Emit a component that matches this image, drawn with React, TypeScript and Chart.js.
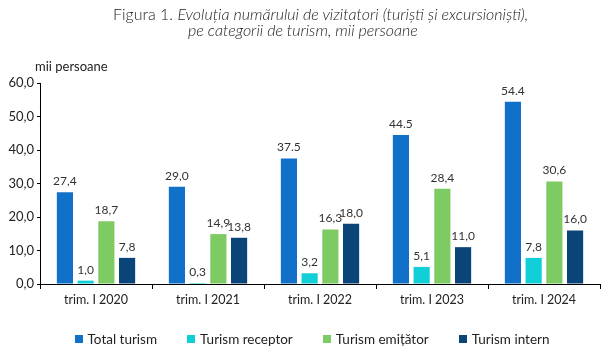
import React, { useEffect, useRef } from "react";
import { Chart, registerables } from "chart.js";

Chart.register(...registerables);

const categories = ["trim. I 2020", "trim. I 2021", "trim. I 2022", "trim. I 2023", "trim. I 2024"];
const seriesNames = ["Total turism", "Turism receptor", "Turism emițător", "Turism intern"];
const totalTurism = [27.4, 29.0, 37.5, 44.5, 54.4];
const turismReceptor = [1.0, 0.3, 3.2, 5.1, 7.8];
const turismEmitator = [18.7, 14.9, 16.3, 28.4, 30.6];
const turismIntern = [7.8, 13.8, 18.0, 11.0, 16.0];
const totalLabels = ["27,4", "29,0", "37.5", "44.5", "54.4"];
const receptorLabels = ["1,0", "0,3", "3,2", "5,1", "7,8"];
const emitatorLabels = ["18,7", "14,9", "16,3", "28,4", "30,6"];
const internLabels = ["7,8", "13,8", "18,0", "11,0", "16,0"];
const yTicks = [0, 10, 20, 30, 40, 50, 60];

const colors = ["#1170C8", "#10CFD9", "#7ECB63", "#0B4479"];
const FONT = "Lato, 'Open Sans', sans-serif";

const valueLabelPlugin = {
  id: "valueLabels",
  afterDatasetsDraw(chart: any) {
    const ctx = chart.ctx;
    ctx.save();
    ctx.font = `12px ${FONT}`;
    ctx.fillStyle = "#333";
    ctx.textAlign = "center";
    ctx.textBaseline = "bottom";
    chart.data.datasets.forEach((ds: any, i: number) => {
      const meta = chart.getDatasetMeta(i);
      meta.data.forEach((bar: any, j: number) => {
        ctx.fillText(ds.valueLabels[j], bar.x, bar.y - 5);
      });
    });
    ctx.restore();
  },
};

export default function App() {
  const ref = useRef<HTMLCanvasElement>(null);
  useEffect(() => {
    const values = [totalTurism, turismReceptor, turismEmitator, turismIntern];
    const labels = [totalLabels, receptorLabels, emitatorLabels, internLabels];
    const chart = new Chart(ref.current!, {
      type: "bar",
      data: {
        labels: categories,
        datasets: values.map((v, i) => ({
          label: seriesNames[i],
          data: v,
          backgroundColor: colors[i],
          borderWidth: 0,
          categoryPercentage: 0.74,
          barPercentage: 0.78,
          valueLabels: labels[i],
        })) as any,
      },
      options: {
        animation: false,
        responsive: false,
        maintainAspectRatio: false,
        layout: { padding: { top: 83, right: 11, left: 0, bottom: 0 } },
        plugins: {
          title: { display: false },
          tooltip: { enabled: false },
          legend: { display: false },
        },
        scales: {
          x: {
            grid: {
              display: true,
              drawOnChartArea: false,
              drawTicks: true,
              tickLength: 5,
              color: "#000",
              offset: true,
            },
            border: { display: true, color: "#000", width: 1 },
            ticks: { color: "#222", font: { family: FONT, size: 12.5 }, padding: 3 },
            afterFit: (s: any) => { s.height = 71; },
          },
          y: {
            min: 0,
            max: 60,
            afterBuildTicks: (s: any) => { s.ticks = yTicks.map((v) => ({ value: v })); },
            grid: {
              display: true,
              drawOnChartArea: false,
              drawTicks: true,
              tickLength: 3,
              color: "#000",
            },
            border: { display: true, color: "#000", width: 1 },
            ticks: {
              color: "#222",
              font: { family: FONT, size: 13 },
              padding: 3,
              callback: (v: any) => Number(v).toFixed(1).replace(".", ","),
            },
            afterFit: (s: any) => { s.width = 40; },
          },
        },
      },
      plugins: [valueLabelPlugin],
    });
    return () => chart.destroy();
  }, []);

  return (
    <div style={{ position: "fixed", left: 0, top: 0, width: 611, height: 355, background: "#fff", fontFamily: FONT, color: "#222" }}>
      <canvas ref={ref} width={611} height={355} style={{ position: "absolute", left: 0, top: 0 }} />
      <div style={{ position: "absolute", left: 113, top: 6, fontSize: 16, lineHeight: "16px", whiteSpace: "nowrap", fontWeight: 300 }}>
        <div>Figura 1. <i>Evoluția numărului de vizitatori (turiști și excursioniști),</i></div>
        <div style={{ paddingLeft: 75 }}><i>pe categorii de turism, mii persoane</i></div>
      </div>
      <div style={{ position: "absolute", left: 35, top: 58, fontSize: 13, whiteSpace: "nowrap" }}>mii persoane</div>
      <div style={{ position: "absolute", left: 0, width: 624, top: 331, height: 16, display: "flex", justifyContent: "center", alignItems: "center", gap: 30, fontSize: 13.5, whiteSpace: "nowrap" }}>
        {seriesNames.map((n, i) => (
          <div key={n} style={{ display: "flex", alignItems: "center" }}>
            <span style={{ display: "inline-block", width: 8, height: 8, background: colors[i], marginRight: 5 }} />
            <span>{n}</span>
          </div>
        ))}
      </div>
    </div>
  );
}
